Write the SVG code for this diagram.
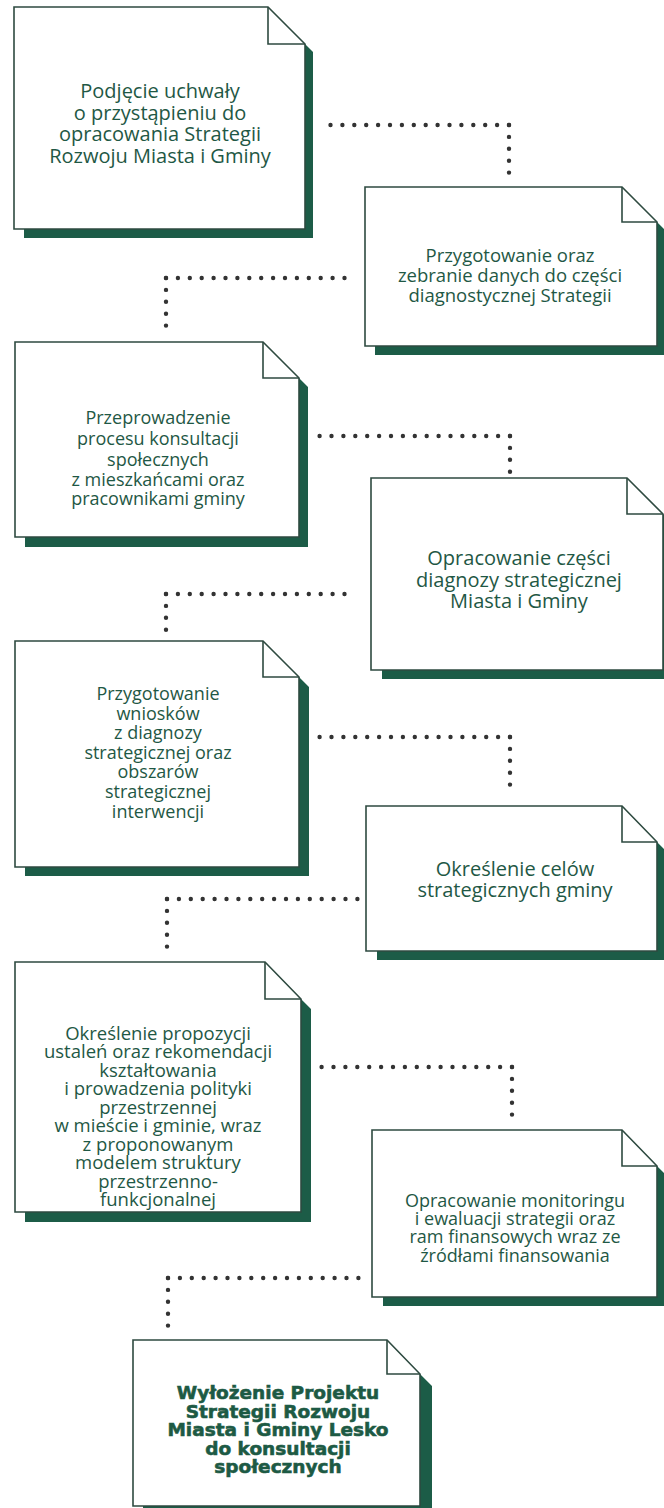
<svg xmlns="http://www.w3.org/2000/svg" width="664" height="1508" viewBox="0 0 664 1508">
<style>
.shadow{fill:#1c5c47}
.box{fill:#fff;stroke:#2e4a40;stroke-width:1.6}
.fold{fill:none;stroke:#2e4a40;stroke-width:1.6}
.t{font-family:"Open Sans","Noto Sans",sans-serif;fill:#1f5845;text-anchor:middle}
.b{font-family:"DejaVu Sans",sans-serif;font-weight:bold;fill:#1d5a44;stroke:#1d5a44;stroke-width:0.6;text-anchor:middle}
.dot{stroke:#333;stroke-width:4.4;stroke-linecap:round;stroke-dasharray:0 11.9;fill:none}
</style>
<rect width="664" height="1508" fill="#fff"/>
<g id="connectors">
<line class="dot" x1="509" y1="125" x2="319" y2="125"/><line class="dot" x1="509" y1="125" x2="509" y2="175"/>
<line class="dot" x1="166" y1="278" x2="355" y2="278"/><line class="dot" x1="166" y1="278" x2="166" y2="329"/>
<line class="dot" x1="510" y1="436" x2="319" y2="436"/><line class="dot" x1="510" y1="436" x2="510" y2="473"/>
<line class="dot" x1="166" y1="594" x2="356" y2="594"/><line class="dot" x1="166" y1="594" x2="166" y2="632"/>
<line class="dot" x1="510" y1="737" x2="319" y2="737"/><line class="dot" x1="510" y1="737" x2="510" y2="794"/>
<line class="dot" x1="167" y1="899" x2="358" y2="899"/><line class="dot" x1="167" y1="899" x2="167" y2="950"/>
<line class="dot" x1="512" y1="1067" x2="320" y2="1067"/><line class="dot" x1="512" y1="1067" x2="512" y2="1119"/>
<line class="dot" x1="168" y1="1278" x2="360" y2="1278"/><line class="dot" x1="168" y1="1278" x2="168" y2="1329"/>
</g>
<g id="n1">
<path class="shadow" d="M305,44 L313,52 V238 H24 V229 H305 Z"/>
<path class="box" d="M14,7 H268 L305,44 V229 H14 Z"/>
<path class="fold" d="M268,7 V44 H305"/>
<text class="t" font-size="20"><tspan x="160" y="98">Podjęcie uchwały</tspan><tspan x="160" y="119.5">o przystąpieniu do</tspan><tspan x="160" y="141">opracowania Strategii</tspan><tspan x="160" y="162.5">Rozwoju Miasta i Gminy</tspan></text>
</g>
<g id="n2">
<path class="shadow" d="M657,222 L665,230 V355 H375 V346 H657 Z"/>
<path class="box" d="M365,187 H622 L657,222 V346 H365 Z"/>
<path class="fold" d="M622,187 V222 H657"/>
<text class="t" font-size="18.5"><tspan x="510" y="262">Przygotowanie oraz</tspan><tspan x="510" y="282">zebranie danych do części</tspan><tspan x="510" y="302">diagnostycznej Strategii</tspan></text>
</g>
<g id="n3">
<path class="shadow" d="M299,378 L308,387 V547 H25 V537 H299 Z"/>
<path class="box" d="M15,342 H263 L299,378 V537 H15 Z"/>
<path class="fold" d="M263,342 V378 H299"/>
<text class="t" font-size="18"><tspan x="158" y="424">Przeprowadzenie</tspan><tspan x="158" y="445">procesu konsultacji</tspan><tspan x="158" y="466">społecznych</tspan><tspan x="158" y="486">z mieszkańcami oraz</tspan><tspan x="158" y="505">pracownikami gminy</tspan></text>
</g>
<g id="n4">
<path class="shadow" d="M663,514 L671,522 V679 H382 V670 H663 Z"/>
<path class="box" d="M371,478 H627 L663,514 V670 H371 Z"/>
<path class="fold" d="M627,478 V514 H663"/>
<text class="t" font-size="20"><tspan x="519" y="565">Opracowanie części</tspan><tspan x="519" y="587">diagnozy strategicznej</tspan><tspan x="519" y="608">Miasta i Gminy</tspan></text>
</g>
<g id="n5">
<path class="shadow" d="M299,677 L309,687 V876 H25 V867 H299 Z"/>
<path class="box" d="M15,641 H263 L299,677 V867 H15 Z"/>
<path class="fold" d="M263,641 V677 H299"/>
<text class="t" font-size="18"><tspan x="158" y="700">Przygotowanie</tspan><tspan x="158" y="720">wniosków</tspan><tspan x="158" y="739">z diagnozy</tspan><tspan x="158" y="759">strategicznej oraz</tspan><tspan x="158" y="778">obszarów</tspan><tspan x="158" y="798">strategicznej</tspan><tspan x="158" y="818">interwencji</tspan></text>
</g>
<g id="n6">
<path class="shadow" d="M657,842 L665,850 V960 H377 V951 H657 Z"/>
<path class="box" d="M366,806 H622 L657,842 V951 H366 Z"/>
<path class="fold" d="M622,806 V842 H657"/>
<text class="t" font-size="20"><tspan x="515" y="876">Określenie celów</tspan><tspan x="515" y="897">strategicznych gminy</tspan></text>
</g>
<g id="n7">
<path class="shadow" d="M301,999 L311,1009 V1222 H25 V1212 H301 Z"/>
<path class="box" d="M15,962 H265 L301,999 V1212 H15 Z"/>
<path class="fold" d="M265,962 V999 H301"/>
<text class="t" font-size="18.5"><tspan x="158" y="1039.5">Określenie propozycji</tspan><tspan x="158" y="1058">ustaleń oraz rekomendacji</tspan><tspan x="158" y="1076.5">kształtowania</tspan><tspan x="158" y="1095">i prowadzenia polityki</tspan><tspan x="158" y="1113.5">przestrzennej</tspan><tspan x="158" y="1132">w mieście i gminie, wraz</tspan><tspan x="158" y="1150.5">z proponowanym</tspan><tspan x="158" y="1169">modelem struktury</tspan><tspan x="158" y="1187.5">przestrzenno-</tspan><tspan x="158" y="1206">funkcjonalnej</tspan></text>
</g>
<g id="n8">
<path class="shadow" d="M657,1166 L665,1174 V1306 H383 V1297 H657 Z"/>
<path class="box" d="M372,1130 H622 L657,1166 V1297 H372 Z"/>
<path class="fold" d="M622,1130 V1166 H657"/>
<text class="t" font-size="18"><tspan x="515" y="1207">Opracowanie monitoringu</tspan><tspan x="515" y="1225">i ewaluacji strategii oraz</tspan><tspan x="515" y="1243">ram finansowych wraz ze</tspan><tspan x="515" y="1262">źródłami finansowania</tspan></text>
</g>
<g id="n9">
<path class="shadow" d="M420,1374 L432,1386 V1516 H143 V1506 H420 Z"/>
<path class="box" d="M133,1340 H387 L420,1374 V1506 H133 Z"/>
<path class="fold" d="M387,1340 V1374 H420"/>
<text class="b" font-size="18.5"><tspan x="278" y="1399">Wyłożenie Projektu</tspan><tspan x="278" y="1417.5">Strategii Rozwoju</tspan><tspan x="278" y="1436">Miasta i Gminy Lesko</tspan><tspan x="278" y="1454.5">do konsultacji</tspan><tspan x="278" y="1473">społecznych</tspan></text>
</g>
</svg>
